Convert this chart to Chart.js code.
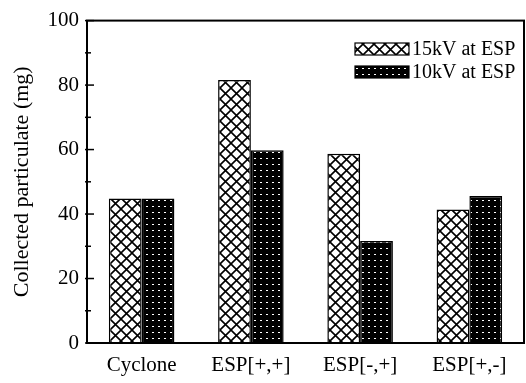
<!DOCTYPE html>
<html>
<head>
<meta charset="utf-8">
<script src="https://cdn.jsdelivr.net/npm/chart.js@4"></script>
<style>
  html, body { margin: 0; padding: 0; background: #fff; }
  #wrap { width: 526px; height: 383px; }
</style>
</head>
<body>
<div id="wrap"><canvas id="chart" width="526" height="383"></canvas></div>
<script>
// values
const categories = ["Cyclone", "ESP[+,+]", "ESP[-,+]", "ESP[+,-]"];
const kv15 = [44.8, 81.6, 58.7, 41.4];
const kv10 = [44.8, 59.8, 31.6, 45.6];
const seriesLabels = ["15kV at ESP", "10kV at ESP"];
const yMax = 100;
const yStep = 20;

const FONT = "'Liberation Serif', 'Times New Roman', serif";

// 격자 무늬(15kV): 흰 바탕에 대각선 두 방향
function crossPattern() {
  const c = document.createElement("canvas");
  c.width = 11; c.height = 11;
  const g = c.getContext("2d");
  g.fillStyle = "#fff";
  g.fillRect(0, 0, 11, 11);
  g.strokeStyle = "#000";
  g.lineWidth = 1.6;
  g.beginPath();
  g.moveTo(0, 0); g.lineTo(11, 11);
  g.moveTo(11, 0); g.lineTo(0, 11);
  g.stroke();
  return g.createPattern(c, "repeat");
}

// 점 무늬(10kV): 검은 바탕에 흰 점
function dotPattern() {
  const c = document.createElement("canvas");
  c.width = 6; c.height = 6;
  const g = c.getContext("2d");
  g.fillStyle = "#000";
  g.fillRect(0, 0, 6, 6);
  g.fillStyle = "#fff";
  g.fillRect(2, 2, 2, 1);
  return g.createPattern(c, "repeat");
}

const fills = [crossPattern(), dotPattern()];

// 축 테두리와 안쪽으로 향한 눈금, 범례를 직접 그린다
const framePlugin = {
  id: "frame",
  afterDatasetsDraw(chart) {
    const { ctx, chartArea: a, scales } = chart;
    ctx.save();
    ctx.strokeStyle = "#000";
    ctx.lineWidth = 2;
    ctx.strokeRect(a.left, a.top, a.right - a.left, a.bottom - a.top);
    ctx.lineWidth = 1.5;
    for (let v = 0; v <= yMax; v += yStep / 2) {
      const y = scales.y.getPixelForValue(v);
      const len = v % yStep === 0 ? 7 : 4;
      ctx.beginPath();
      ctx.moveTo(a.left - 2, y);
      ctx.lineTo(a.left + len, y);
      ctx.stroke();
    }
    // legend
    const lx = 355, ly = [43, 66], bw = 54, bh = 12;
    ctx.font = "20px " + FONT;
    ctx.textBaseline = "middle";
    ctx.fillStyle = "#000";
    seriesLabels.forEach((lab, i) => {
      ctx.fillStyle = fills[i];
      ctx.fillRect(lx, ly[i], bw, bh);
      ctx.lineWidth = 1.2;
      ctx.strokeRect(lx, ly[i], bw, bh);
      ctx.fillStyle = "#000";
      ctx.fillText(lab, lx + bw + 3, ly[i] + bh / 2 + 1);
    });
    ctx.restore();
  },
};

new Chart(document.getElementById("chart"), {
  type: "bar",
  data: {
    labels: categories,
    datasets: [kv15, kv10].map((vals, i) => ({
      label: seriesLabels[i],
      data: vals,
      backgroundColor: fills[i],
      borderColor: "#000",
      borderWidth: 1.5,
      borderSkipped: "bottom",
      categoryPercentage: 0.6,
      barPercentage: 1,
    })),
  },
  options: {
    responsive: false,
    animation: false,
    layout: { padding: { left: 0, top: 15, right: 2, bottom: 0 } },
    plugins: { legend: { display: false }, tooltip: { enabled: false } },
    scales: {
      x: {
        grid: { display: false, drawTicks: false },
        border: { display: false },
        ticks: { color: "#000", padding: 10, font: { family: FONT, size: 21 } },
        afterFit(s) { s.height = 40; },
      },
      y: {
        min: 0,
        max: yMax,
        grid: { display: false, drawTicks: false },
        border: { display: false },
        ticks: { stepSize: yStep, color: "#000", padding: 8, font: { family: FONT, size: 21 } },
        title: { display: true, text: "Collected particulate (mg)", color: "#000", padding: { top: 9, bottom: 0 }, font: { family: FONT, size: 22 } },
        afterFit(s) { s.width = 87; },
      },
    },
  },
  plugins: [framePlugin],
});
</script>
</body>
</html>
